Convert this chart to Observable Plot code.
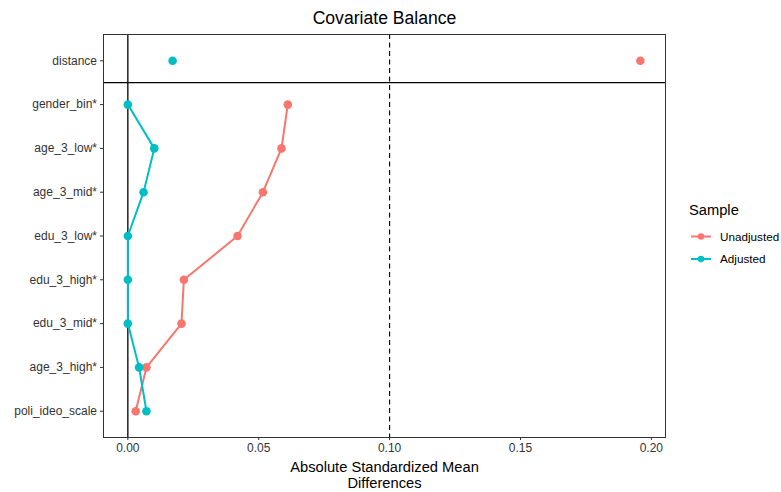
<!DOCTYPE html>
<html>
<head>
<meta charset="utf-8">
<script src="https://cdn.jsdelivr.net/npm/d3@7"></script>
<script src="https://cdn.jsdelivr.net/npm/@observablehq/plot@0.6"></script>
<style>
  html, body { margin: 0; padding: 0; background: #fff; }
  #chart { width: 781px; height: 492px; }
</style>
</head>
<body>
<div id="chart"></div>
<script>
// ---- Data ----
const variables = ["distance", "gender_bin*", "age_3_low*", "age_3_mid*", "edu_3_low*",
                   "edu_3_high*", "edu_3_mid*", "age_3_high*", "poli_ideo_scale"];
const unadjusted = [0.1958, 0.0611, 0.0587, 0.0516, 0.0419, 0.0214, 0.0205, 0.0071, 0.0030];
const adjusted   = [0.0171, 0.0000, 0.0101, 0.0060, 0.0000, 0.0000, 0.0000, 0.0043, 0.0071];
const samples = ["Unadjusted", "Adjusted"];
const colors = ["#F8766D", "#00BFC4"];
const threshold = 0.1;
const xTicks = [0, 0.05, 0.10, 0.15, 0.20];
const titleText = "Covariate Balance";
const xTitle = "Absolute Standardized Mean\nDifferences";
const legendTitle = "Sample";

// Build long table
const rows = [];
samples.forEach((s, si) => {
  const vals = si === 0 ? unadjusted : adjusted;
  variables.forEach((v, i) => rows.push({variable: v, index: i, value: vals[i], sample: s}));
});
const lineRows = rows.filter(d => d.variable !== "distance");

const font = "'Liberation Sans', Arial, Helvetica, sans-serif";

const chart = Plot.plot({
  width: 781,
  height: 492,
  marginTop: 34,
  marginBottom: 55,
  marginLeft: 103,
  marginRight: 116,
  style: {fontFamily: font, fontSize: "12px", color: "#000", background: "#fff", overflow: "visible"},
  x: {domain: [-0.0093, 0.2054]},
  y: {domain: [-0.6, 8.6], reverse: true},
  color: {domain: samples, range: colors},
  marks: [
    Plot.ruleX([0], {stroke: "#000", strokeWidth: 1.3}),
    Plot.ruleX([threshold], {stroke: "#000", strokeWidth: 1.1, strokeDasharray: "5,3.5"}),
    Plot.ruleY([0.5], {stroke: "#000", strokeWidth: 1.3}),
    Plot.line(lineRows, {x: "value", y: "index", z: "sample", stroke: "sample", strokeWidth: 2}),
    Plot.dot(rows, {x: "value", y: "index", fill: "sample", r: 4.3, stroke: "none"}),
    Plot.frame({stroke: "#333", strokeWidth: 1}),
    Plot.axisX({ticks: xTicks, tickFormat: d3.format(".2f"), tickSize: 3, tickPadding: 3,
                label: null, stroke: "#333", fill: "#333"}),
    Plot.axisY({ticks: d3.range(variables.length), tickFormat: i => variables[i],
                tickSize: 3, tickPadding: 3.5, label: null, stroke: "#333", fill: "#333"}),
    Plot.text([xTitle], {frameAnchor: "bottom", lineAnchor: "top", dy: 23, fontSize: 14.7,
                         lineHeight: 1.09, fill: "#000"}),
    Plot.text([titleText], {frameAnchor: "top", lineAnchor: "bottom", dy: -11, fontSize: 17.6, fill: "#000"})
  ]
});

document.getElementById("chart").appendChild(chart);

// Legend (drawn into the same SVG)
const svg = d3.select(chart.tagName.toLowerCase() === "svg" ? chart : chart.querySelector("svg"));
const lg = svg.append("g").attr("font-family", font).attr("text-anchor", "start");
lg.append("text").attr("x", 689).attr("y", 210).attr("dy", "0.35em")
  .attr("font-size", 14.7).attr("fill", "#000").text(legendTitle);
const keyY = [236.5, 259];
samples.forEach((s, i) => {
  const g = lg.append("g");
  g.append("line").attr("x1", 691).attr("x2", 711).attr("y1", keyY[i]).attr("y2", keyY[i])
    .attr("stroke", colors[i]).attr("stroke-width", 2);
  g.append("circle").attr("cx", 701).attr("cy", keyY[i]).attr("r", 3.2).attr("fill", colors[i]);
  g.append("text").attr("x", 720).attr("y", keyY[i]).attr("dy", "0.35em")
    .attr("font-size", 11.7).attr("fill", "#000").text(s);
});
</script>
</body>
</html>
